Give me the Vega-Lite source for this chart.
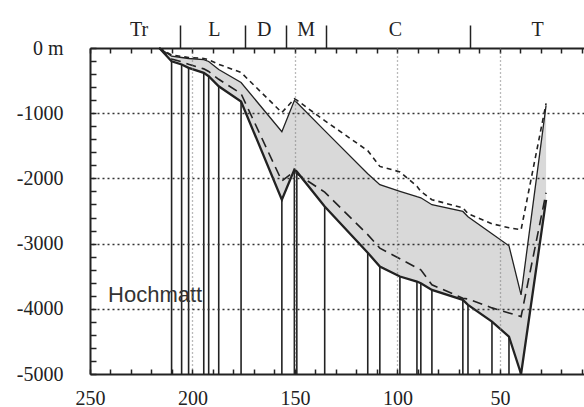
{
  "$schema": "https://vega.github.io/schema/vega-lite/v6.json",
  "width": 494,
  "height": 326,
  "autosize": {"type": "none"},
  "padding": {"left": 90, "top": 48, "right": 0, "bottom": 33},
  "background": "white",
  "config": {
    "view": {"stroke": null},
    "axis": {"domainColor": "#222", "tickColor": "#222", "labelColor": "#222", "domainWidth": 2, "tickWidth": 1.5, "labelFont": "Liberation Serif", "labelFontSize": 20, "labelOverlap": false, "labelFlush": false}
  },
  "data": {"values": [
    {"age": 216.2, "thick": 0, "thin": 0, "sdash": 0, "ldash": 0},
    {"age": 210.2, "thick": -203, "thin": -126, "sdash": -110, "ldash": -170},
    {"age": 205.3, "thick": -253, "thin": -146, "sdash": -130, "ldash": -210},
    {"age": 201.9, "thick": -304, "thin": -161, "sdash": -145, "ldash": -250},
    {"age": 194.5, "thick": -381, "thin": -177, "sdash": -160, "ldash": -320},
    {"age": 192.1, "thick": -433, "thin": -207, "sdash": -180, "ldash": -360},
    {"age": 187.2, "thick": -587, "thin": -330, "sdash": -250, "ldash": -480},
    {"age": 176.3, "thick": -820, "thin": -530, "sdash": -376, "ldash": -700},
    {"age": 156.4, "thick": -2327, "thin": -1283, "sdash": -990, "ldash": -2040},
    {"age": 150.3, "thick": -1866, "thin": -806, "sdash": -780, "ldash": -1890},
    {"age": 149.1, "thick": -1897, "thin": -837, "sdash": -800, "ldash": -1930},
    {"age": 135.5, "thick": -2430, "thin": -1267, "sdash": -1114, "ldash": -2210},
    {"age": 114.5, "thick": -3140, "thin": -1928, "sdash": -1575, "ldash": -2862},
    {"age": 108.6, "thick": -3352, "thin": -2097, "sdash": -1816, "ldash": -3069},
    {"age": 98.8, "thick": -3505, "thin": -2200, "sdash": -1900, "ldash": -3233},
    {"age": 90.5, "thick": -3582, "thin": -2281, "sdash": -2120, "ldash": -3372},
    {"age": 88.6, "thick": -3607, "thin": -2297, "sdash": -2200, "ldash": -3402},
    {"age": 83.2, "thick": -3710, "thin": -2404, "sdash": -2327, "ldash": -3632},
    {"age": 68.1, "thick": -3863, "thin": -2507, "sdash": -2450, "ldash": -3837},
    {"age": 65.6, "thick": -3940, "thin": -2588, "sdash": -2542, "ldash": -3850},
    {"age": 53.9, "thick": -4197, "thin": -2849, "sdash": -2696, "ldash": -3986},
    {"age": 45.6, "thick": -4427, "thin": -3034, "sdash": -2757, "ldash": -4063},
    {"age": 39.7, "thick": -5000, "thin": -3786, "sdash": -2788, "ldash": -4120},
    {"age": 27.5, "thick": -2330, "thin": -880, "sdash": -850, "ldash": -2220}
  ]},
  "layer": [
    {
      "mark": {"type": "area", "color": "#d9d9d9", "opacity": 1},
      "encoding": {
        "x": {"field": "age", "type": "quantitative",
          "scale": {"domain": [9, 250], "reverse": true, "nice": false, "zero": false},
          "axis": {"orient": "bottom", "title": null, "zindex": 1,
            "values": [250,240,230,220,210,200,190,180,170,160,150,140,130,120,110,100,90,80,70,60,50,40,30,20,10],
            "labelExpr": "datum.value % 50 === 0 ? toString(datum.value) : ''",
            "tickSize": -5, "labelPadding": 19, "labelBaseline": "top",
            "grid": true, "gridColor": "#777", "gridDash": [1, 3], "gridWidth": 1.3,
            "gridOpacity": {"condition": {"test": "datum.value % 50 === 0 && datum.value < 250", "value": 1}, "value": 0}}},
        "y": {"field": "thin", "type": "quantitative",
          "scale": {"domain": [-5000, 0], "nice": false, "zero": false},
          "axis": {"orient": "left", "title": null, "zindex": 1,
            "values": [-5000,-4800,-4600,-4400,-4200,-4000,-3800,-3600,-3400,-3200,-3000,-2800,-2600,-2400,-2200,-2000,-1800,-1600,-1400,-1200,-1000,-800,-600,-400,-200,0],
            "labelExpr": "datum.value === 0 ? '0 m' : (datum.value % 1000 === 0 ? toString(datum.value) : '')",
            "tickSize": -6, "labelPadding": 33,
            "grid": true, "gridColor": "#333", "gridDash": [2, 3], "gridWidth": 1.3,
            "gridOpacity": {"condition": {"test": "datum.value % 1000 === 0 && datum.value > -5000 && datum.value < 0", "value": 1}, "value": 0}}},
        "y2": {"field": "thick"}
      }
    },
    {
      "transform": [{"filter": "datum.age < 215 && datum.age > 41"}],
      "mark": {"type": "rule", "color": "#222", "strokeWidth": 1.6},
      "encoding": {
        "x": {"field": "age", "type": "quantitative", "axis": null},
        "y": {"field": "thick", "type": "quantitative", "axis": null},
        "y2": {"datum": -5000}
      }
    },
    {
      "mark": {"type": "line", "color": "#222", "strokeWidth": 2.3},
      "encoding": {
        "x": {"field": "age", "type": "quantitative",
          "axis": {"orient": "top", "title": null, "labels": false, "grid": false,
            "values": [250,240,230,220,210,200,190,180,170,160,150,140,130,120,110,100,90,80,70,60,50,40,30,20,10],
            "tickSize": -5}},
        "y": {"field": "thick", "type": "quantitative", "axis": null}
      }
    },
    {
      "mark": {"type": "line", "color": "#222", "strokeWidth": 1.3},
      "encoding": {
        "x": {"field": "age", "type": "quantitative",
          "axis": {"orient": "top", "title": null, "labels": false, "grid": false, "domain": false,
            "values": [206, 174.2, 154.5, 134.9, 64.6], "tickSize": 23, "tickWidth": 1.5}},
        "y": {"field": "thin", "type": "quantitative", "axis": null}
      }
    },
    {
      "mark": {"type": "line", "color": "#222", "strokeWidth": 1.6, "strokeDash": [5, 4]},
      "encoding": {
        "x": {"field": "age", "type": "quantitative",
          "axis": {"orient": "top", "title": null, "ticks": false, "grid": false, "domain": false,
            "values": [226.3, 189.6, 165.2, 144.8, 101.3, 31.9],
            "labelExpr": "datum.value > 220 ? 'Tr' : datum.value > 180 ? 'L' : datum.value > 160 ? 'D' : datum.value > 140 ? 'M' : datum.value > 60 ? 'C' : 'T'",
            "labelPadding": 19, "labelBaseline": "middle"}},
        "y": {"field": "sdash", "type": "quantitative", "axis": null}
      }
    },
    {
      "mark": {"type": "line", "color": "#222", "strokeWidth": 1.6, "strokeDash": [10, 6]},
      "encoding": {
        "x": {"field": "age", "type": "quantitative", "axis": null},
        "y": {"field": "ldash", "type": "quantitative", "axis": null}
      }
    },
    {
      "data": {"values": [{"label": "Hochmatt", "age": 241.2, "depth": -3891}]},
      "mark": {"type": "text", "font": "Liberation Sans", "fontSize": 22, "color": "#333", "align": "left", "baseline": "alphabetic"},
      "encoding": {
        "x": {"field": "age", "type": "quantitative", "axis": null},
        "y": {"field": "depth", "type": "quantitative", "axis": null},
        "text": {"field": "label"}
      }
    }
  ],
  "resolve": {"axis": {"x": "independent", "y": "independent"}}
}
